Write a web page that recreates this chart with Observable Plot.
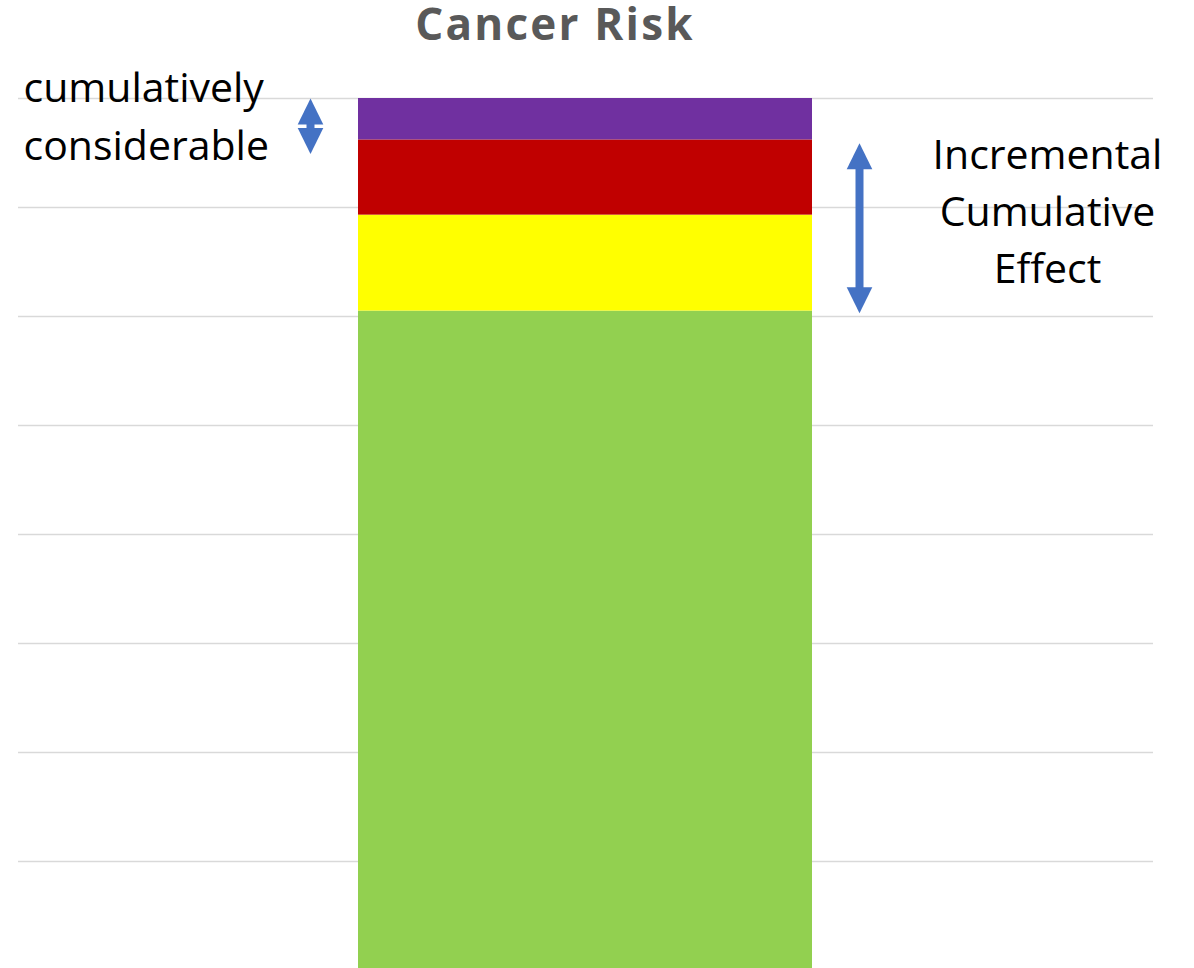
<!DOCTYPE html>
<html><head><meta charset="utf-8">
<script src="https://cdn.jsdelivr.net/npm/d3@7"></script>
<script src="https://cdn.jsdelivr.net/npm/@observablehq/plot@0.6"></script>
<style>
html,body{margin:0;padding:0;background:#fff;overflow:hidden;}
#wrap{position:relative;width:1194px;height:968px;overflow:hidden;}
#title{position:absolute;left:0;top:0;width:1110px;text-align:center;font:bold 44px "Open Sans";letter-spacing:2.2px;color:#595959;margin:0;line-height:1.05;}
#chart{position:absolute;left:0;top:0;}
</style></head>
<body><div id="wrap"><div id="chart"></div><div id="title">Cancer Risk</div></div>
<script>
const categories = ["Cancer Risk"];
const layers = ["Baseline", "Layer 2", "Layer 3", "Layer 4"];
const layerValues = [6.05, 0.88, 0.69, 0.38];
const layerColors = ["#92D050", "#FFFF00", "#C00000", "#7030A0"];
const yTicks = [0, 1, 2, 3, 4, 5, 6, 7, 8];
const incrementalSpan = [6.03, 7.59];
const considerableSpan = [7.49, 8.0];
const leftLabel = "cumulatively\nconsiderable";
const rightLabel = "Incremental\nCumulative\nEffect";

const table = layers.map((l, i) => ({category: categories[0], layer: l, value: layerValues[i]}));
const arrowColor = "#4472C4";
const headSymbol = {
  draw(context) {
    context.moveTo(0, 0);
    context.lineTo(-12.8, 26);
    context.lineTo(12.8, 26);
    context.closePath();
  }
};

function arrow(span, dx) {
  return [
    Plot.ruleX([span], {x: () => categories[0], y1: d => d[1], y2: d => d[0], dx, stroke: arrowColor, strokeWidth: 8, insetTop: 14, insetBottom: 14}),
    Plot.dot([span[1]], {x: () => categories[0], y: d => d, dx, symbol: headSymbol, r: 5, fill: arrowColor, stroke: "none"}),
    Plot.dot([span[0]], {x: () => categories[0], y: d => d, dx, symbol: headSymbol, rotate: 180, r: 5, fill: arrowColor, stroke: "none"})
  ];
}

const chart = Plot.plot({
  width: 1194,
  height: 972,
  marginLeft: 18,
  marginRight: 41,
  marginTop: 98,
  marginBottom: 2,
  x: {type: "band", domain: categories, padding: 0.4278, axis: null},
  y: {domain: [0, 8], axis: null},
  color: {domain: layers, range: layerColors},
  marks: [
    Plot.gridY(yTicks, {stroke: "#d9d9d9", strokeOpacity: 1, strokeWidth: 1.5}),
    Plot.barY(table, {x: "category", y: "value", fill: "layer", inset: 0}),
    ...arrow(incrementalSpan, 274),
    ...arrow(considerableSpan, -275),
    Plot.text([rightLabel], {x: () => categories[0], y: () => (incrementalSpan[0] + incrementalSpan[1]) / 2, text: d => d, dx: 462, dy: -20, fontSize: 41, fontFamily: "Open Sans", fill: "black", lineHeight: 1.39, lineAnchor: "middle", textAnchor: "middle"}),
    Plot.text([leftLabel], {frameAnchor: "top-left", text: d => d, dx: 5, dy: -38, fontSize: 41, fontFamily: "Open Sans", fill: "black", lineHeight: 1.415, lineAnchor: "top", textAnchor: "start"})
  ]
});
document.getElementById("chart").appendChild(chart);
</script>
</body></html>
